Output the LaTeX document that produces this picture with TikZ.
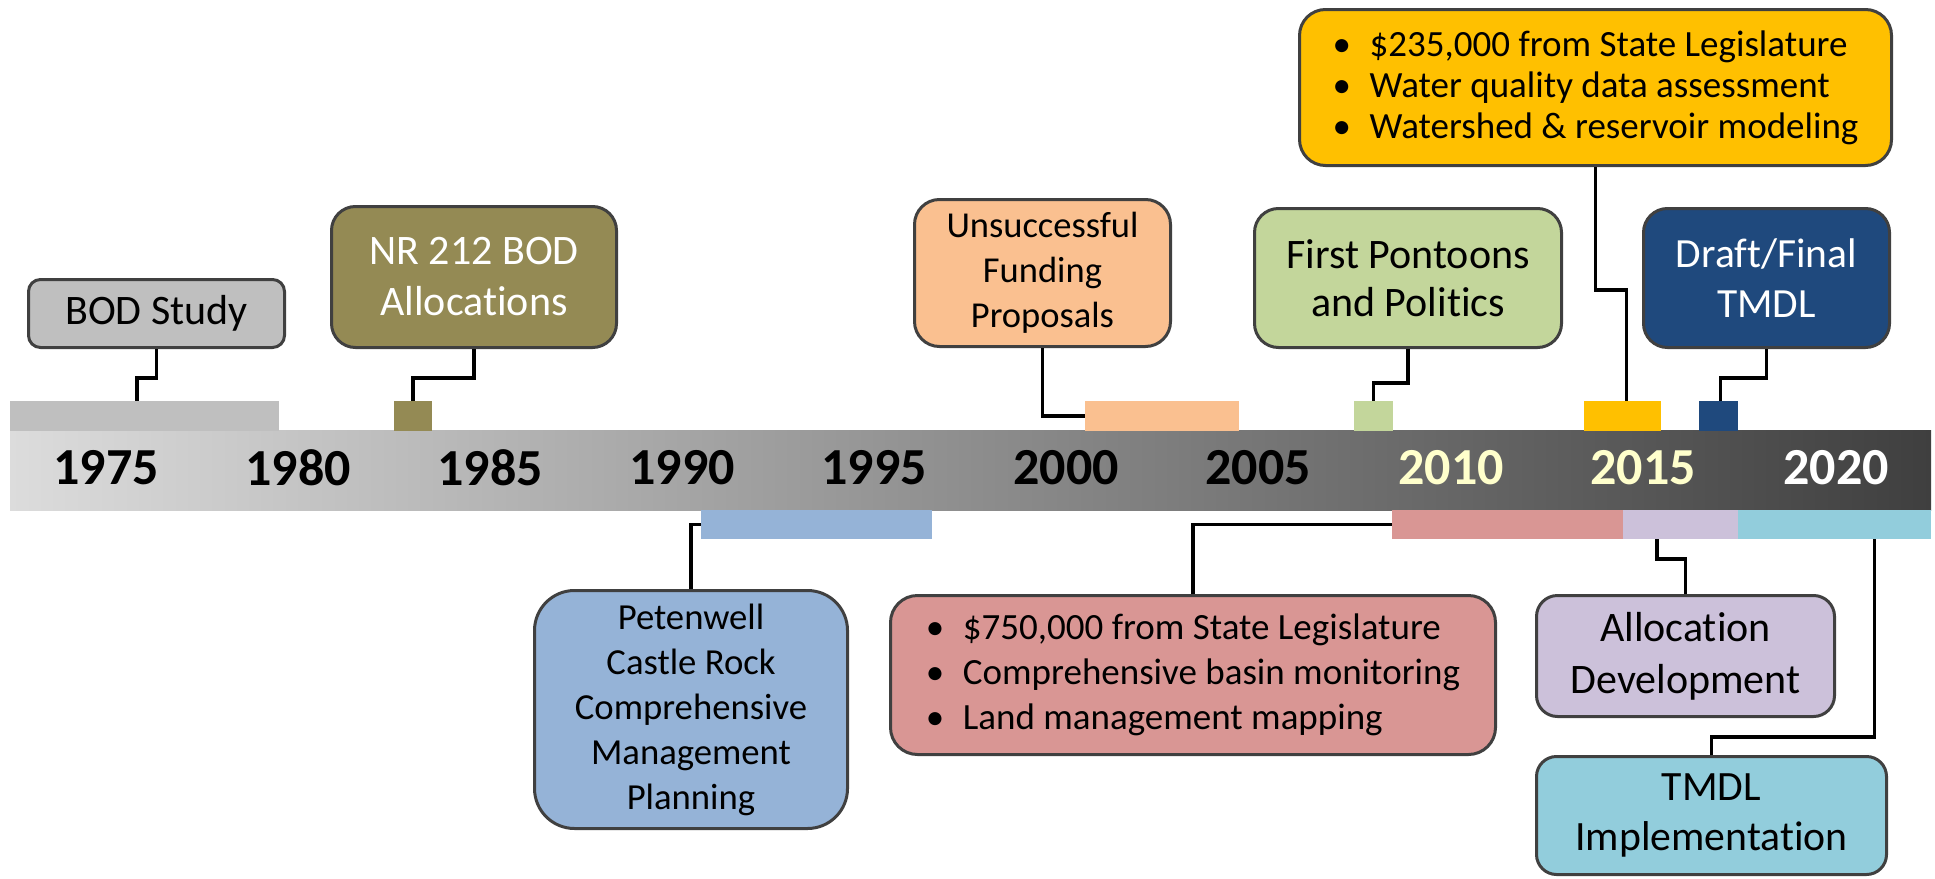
\documentclass[tikz,border=0pt]{standalone}
\usepackage{fontspec}
\setmainfont{Carlito}[Ligatures=NoCommon]
\definecolor{edgegray}{HTML}{404040}
\definecolor{bodgray}{HTML}{BFBFBF}
\definecolor{olive}{HTML}{948A54}
\definecolor{orangeish}{HTML}{FAC090}
\definecolor{greenish}{HTML}{C3D69B}
\definecolor{fundyellow}{HTML}{FFC000}
\definecolor{navy}{HTML}{1F497D}
\definecolor{blueish}{HTML}{95B3D7}
\definecolor{redish}{HTML}{D99694}
\definecolor{lavender}{HTML}{CCC1DA}
\definecolor{cyanish}{HTML}{92CDDC}
\definecolor{yearyellow}{HTML}{FFFFCC}
\definecolor{barL}{HTML}{DCDCDC}
\definecolor{barR}{HTML}{3F3F3F}
\newcommand{\bulletmark}{\makebox[1em][l]{\textbullet}}
\begin{document}
\begin{tikzpicture}[x=1pt,y=-1pt,
  evbox/.style={draw=edgegray, line width=3pt, rounded corners=#1, inner sep=0pt, align=center},
  strip/.style={inner sep=0pt, outer sep=0pt, minimum height=30pt},
  lowstrip/.style={inner sep=0pt, outer sep=0pt, minimum height=29pt},
  conn/.style={draw=black, line width=3.3pt},
  yr/.style={font=\fontsize{52}{60}\selectfont\bfseries, inner sep=0pt}]
\useasboundingbox (0,0) rectangle (1935,878);
\fill[white] (0,0) rectangle (1935,878);

% main bar
\node[inner sep=0pt, outer sep=0pt, minimum width=1921pt, minimum height=80pt,
      shade, left color=barL, right color=barR] (bar) at (970.5,470) {};

% upper strips
\node[strip, fill=bodgray, minimum width=269pt] (s1) at (144.5,416) {};
\node[strip, fill=olive, minimum width=38pt] (s2) at (413,416) {};
\node[strip, fill=orangeish, minimum width=154pt] (s3) at (1162,416) {};
\node[strip, fill=greenish, minimum width=39pt] (s4) at (1373.5,416) {};
\node[strip, fill=fundyellow, minimum width=77pt] (s5) at (1622.5,416) {};
\node[strip, fill=navy, minimum width=39pt] (s6) at (1718.5,416) {};

% lower strips
\node[lowstrip, fill=blueish, minimum width=231pt] (b1) at (816.5,524.5) {};
\node[lowstrip, fill=redish, minimum width=231pt] (b2) at (1507.5,524.5) {};
\node[lowstrip, fill=lavender, minimum width=115pt] (b3) at (1680.5,524.5) {};
\node[lowstrip, fill=cyanish, minimum width=193pt] (b4) at (1834.5,524.5) {};

% years
\node[yr] (y1975) at (106,468) {1975};
\node[yr] (y1980) at (298,468) {1980};
\node[yr] (y1985) at (490,468) {1985};
\node[yr] (y1990) at (682,468) {1990};
\node[yr] (y1995) at (874,468) {1995};
\node[yr] (y2000) at (1066,468) {2000};
\node[yr] (y2005) at (1258,468) {2005};
\node[yr, text=yearyellow] (y2010) at (1451,468) {2010};
\node[yr, text=yearyellow] (y2015) at (1643,468) {2015};
\node[yr, text=white] (y2020) at (1836,468) {2020};

% upper boxes
\node[evbox=12pt, fill=bodgray, minimum width=256pt, minimum height=68pt,
      font=\fontsize{42}{51}\selectfont] (bod) at (156.5,313.5) {BOD Study};
\node[evbox=24pt, fill=olive, text=white, minimum width=285pt, minimum height=141pt,
      font=\fontsize{42}{51}\selectfont] (nr) at (474,277) {NR 212 BOD\\Allocations};
\node[evbox=25pt, fill=orangeish, minimum width=256pt, minimum height=147pt,
      font=\fontsize{36.5}{45}\selectfont] (unsucc) at (1042.5,273) {Unsuccessful\\Funding\\Proposals};
\node[evbox=24pt, fill=greenish, minimum width=307pt, minimum height=139pt,
      font=\fontsize{42}{48}\selectfont] (pont) at (1408,278) {First Pontoons\\and Politics};
\node[evbox=26pt, fill=fundyellow, minimum width=592pt, minimum height=156pt,
      font=\fontsize{37}{41}\selectfont, align=left] (fund) at (1595.5,87.5)
      {\bulletmark\$235,000 from State Legislature\\\bulletmark Water quality data assessment\\\bulletmark Watershed \& reservoir modeling};
\node[evbox=24pt, fill=navy, text=white, minimum width=246pt, minimum height=139pt,
      font=\fontsize{41.5}{50}\selectfont] (draft) at (1766.5,278) {Draft/Final\\TMDL};

% lower boxes
\node[evbox=40pt, fill=blueish, minimum width=313pt, minimum height=238pt,
      font=\fontsize{36.7}{45}\selectfont] (pet) at (691,709.5) {Petenwell\\Castle Rock\\Comprehensive\\Management\\Planning};
\node[evbox=27pt, fill=redish, minimum width=605pt, minimum height=159pt,
      font=\fontsize{37}{45}\selectfont, align=left] (leg) at (1193,675)
      {\bulletmark\$750,000 from State Legislature\\\bulletmark Comprehensive basin monitoring\\\bulletmark Land management mapping};
\node[evbox=21pt, fill=lavender, minimum width=298pt, minimum height=121pt,
      font=\fontsize{42}{52}\selectfont] (alloc) at (1685.5,656) {Allocation\\Development};
\node[evbox=20pt, fill=cyanish, minimum width=350pt, minimum height=118pt,
      font=\fontsize{41.7}{50}\selectfont] (impl) at (1711.5,815.5) {TMDL\\Implementation};

% connectors
\draw[conn] (bod.south) -- ++(0,29) -| ([xshift=-7.5pt]s1.north);
\draw[conn] (nr.south) -- ++(0,29) -| (s2.north);
\draw[conn] (unsucc.south) |- (s3.west);
\draw[conn] (pont.south) -- ++(0,34) -| (s4.north);
\draw[conn] (fund.south) -- ++(0,123) -| ([xshift=4pt]s5.north);
\draw[conn] (draft.south) -- ++(0,29) -| ([xshift=2pt]s6.north);
\draw[conn] (pet.north) |- (b1.west);
\draw[conn] (leg.north) |- (b2.west);
\draw[conn] (alloc.north) -- ++(0,-35) -| ([xshift=-23.5pt]b3.south);
\draw[conn] (impl.north) -- ++(0,-18) -| ([xshift=40pt]b4.south);
\end{tikzpicture}
\end{document}
